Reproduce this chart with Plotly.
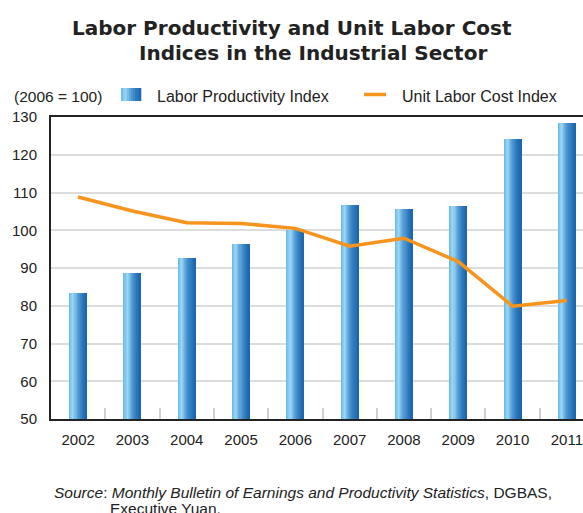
import plotly.graph_objects as go

years = ["2002", "2003", "2004", "2005", "2006", "2007", "2008", "2009", "2010", "2011"]
labor_productivity = [83.4, 88.7, 92.6, 96.4, 100.0, 106.7, 105.7, 106.5, 124.2, 128.4]
unit_labor_cost = [108.8, 105.1, 102.0, 101.8, 100.5, 95.8, 97.9, 91.7, 79.9, 81.4]

W, H = 583, 513
ML, MR, MT, MB = 51, 0, 117, 94
PW, PH = W - ML - MR, H - MT - MB


def px(x):
    return (x - ML) / PW


def py(y):
    return (H - MB - y) / PH


# cylinder-like shading across each bar, built from narrow overlaid bars
stops = [(0.0, (0x66, 0xB8, 0xE6)), (0.22, (0x9C, 0xD7, 0xF5)), (0.5, (0x55, 0x9C, 0xD4)),
         (0.75, (0x2E, 0x7C, 0xC0)), (1.0, (0x1A, 0x64, 0xAA))]


def shade(t):
    for (t0, c0), (t1, c1) in zip(stops, stops[1:]):
        if t0 <= t <= t1:
            f = (t - t0) / (t1 - t0)
            return "rgb(%d,%d,%d)" % tuple(round(a + (b - a) * f) for a, b in zip(c0, c1))
    return "rgb(%d,%d,%d)" % stops[-1][1]


bar_w = 0.315
n_strips = 16
sw = bar_w / n_strips

fig = go.Figure()
for i in range(n_strips):
    fig.add_trace(go.Bar(
        x=years, y=labor_productivity, base=0,
        width=sw * 1.15, offset=-bar_w / 2 + i * sw,
        marker=dict(color=shade((i + 0.5) / n_strips), line=dict(width=0)),
        showlegend=False, hoverinfo="skip" if i else None,
        name="Labor Productivity Index",
    ))

fig.add_trace(go.Scatter(
    x=years, y=unit_labor_cost, mode="lines",
    line=dict(color="#F7941D", width=3.5),
    name="Unit Labor Cost Index", showlegend=False,
))

font_main = "Liberation Sans, Arial, sans-serif"

fig.update_layout(
    width=W, height=H,
    margin=dict(l=ML, r=MR, t=MT, b=MB),
    paper_bgcolor="white", plot_bgcolor="white",
    barmode="overlay", bargap=0,
    font=dict(family=font_main, size=15, color="#222222"),
    xaxis=dict(
        type="category", range=[-0.5, 9.5 - 11 / 54.3],
        showline=True, linecolor="#222222", linewidth=2, mirror=True,
        showgrid=False, tickson="boundaries", ticks="inside", ticklen=11,
        tickcolor="#D0D0D0", tickwidth=1.5,
        tickfont=dict(size=15, color="#222222"), ticklabelstandoff=6,
    ),
    yaxis=dict(
        range=[50, 130], tickvals=list(range(50, 131, 10)),
        showline=True, linecolor="#222222", linewidth=2,
        showgrid=True, gridcolor="#DCDCDC", gridwidth=2,
        ticks="", tickfont=dict(size=15, color="#222222"), ticklabelstandoff=9,
        zeroline=False,
    ),
)

title_font = dict(family="DejaVu Sans, sans-serif", size=20, color="#222222")
annotations = [
    dict(text="<b>Labor Productivity and Unit Labor Cost</b>", x=px(291.5), y=py(28), font=title_font),
    dict(text="<b>Indices in the Industrial Sector</b>", x=px(313), y=py(53), font=title_font),
    dict(text="(2006 = 100)", x=px(12), y=py(96), xanchor="left", font=dict(size=15.5)),
    dict(text="Labor Productivity Index", x=px(155), y=py(96), xanchor="left", font=dict(size=16)),
    dict(text="Unit Labor Cost Index", x=px(400), y=py(96), xanchor="left", font=dict(size=16)),
    dict(text="<i>Source</i>: <i>Monthly Bulletin of Earnings and Productivity Statistics</i>, DGBAS,",
         x=px(52), y=py(492), xanchor="left", font=dict(size=15.5)),
    dict(text="Executive Yuan.", x=px(108), y=py(508), xanchor="left", font=dict(size=15.5)),
]
for a in annotations:
    a.setdefault("xanchor", "center")
    a.update(xref="paper", yref="paper", yanchor="middle", showarrow=False)
fig.update_layout(annotations=annotations)

# legend swatches
shapes = []
x0, x1 = 121, 141
n_sw = 10
for i in range(n_sw):
    a = x0 + (x1 - x0) * i / n_sw
    b = x0 + (x1 - x0) * (i + 1) / n_sw
    shapes.append(dict(type="rect", xref="paper", yref="paper",
                       x0=px(a), x1=px(b + 0.3), y0=py(101), y1=py(88),
                       fillcolor=shade((i + 0.5) / n_sw), line=dict(width=0)))
shapes.append(dict(type="line", xref="paper", yref="paper",
                   x0=px(364), x1=px(386), y0=py(94.5), y1=py(94.5),
                   line=dict(color="#F7941D", width=3.5)))
fig.update_layout(shapes=shapes)

fig.write_html("out.html")
